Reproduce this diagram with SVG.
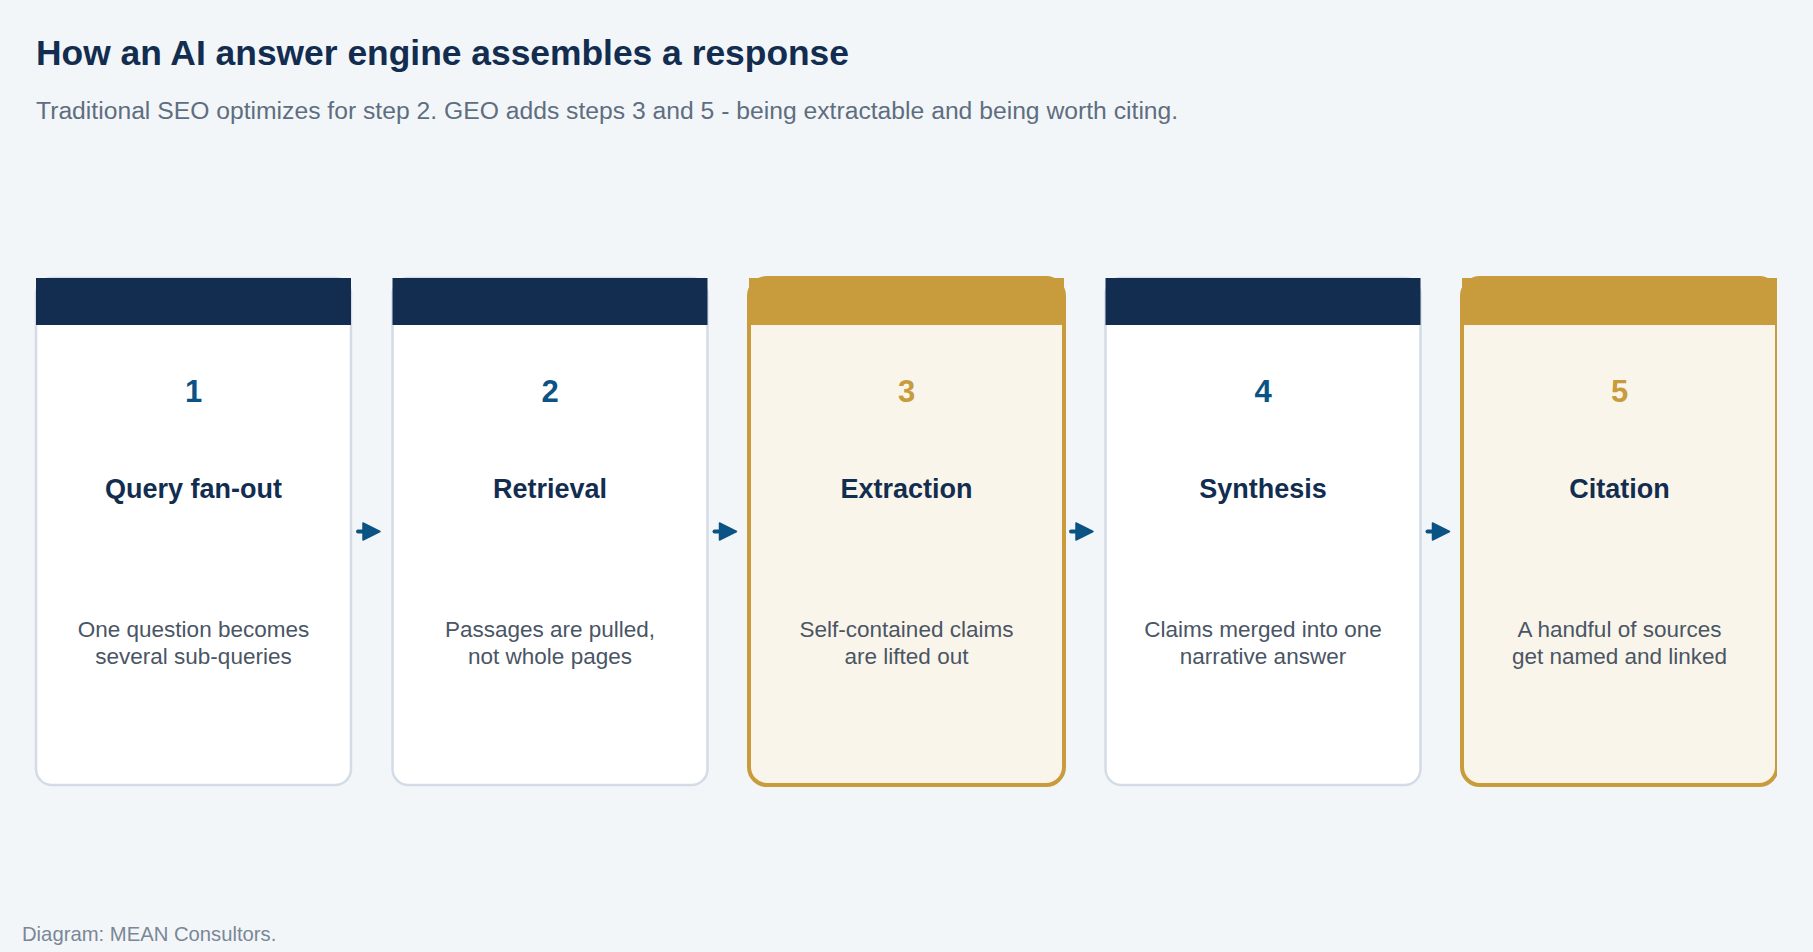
<svg xmlns="http://www.w3.org/2000/svg" width="1813" height="952" viewBox="0 0 1813 952">
  <defs>
    <style>
      .bg { fill: #F3F6F9; }
      .card { fill: #FFFFFF; stroke: #D3DCE6; stroke-width: 2.5; }
      .card-hl { fill: #FAF5EA; stroke: #C89B3C; stroke-width: 4; }
      .hdr { fill: #122D4F; }
      .hdr-hl { fill: #C89B3C; }
      .num { font-family: "Liberation Sans", Arial, sans-serif; font-weight: bold; font-size: 31px; fill: #0B5384; text-anchor: middle; }
      .num-hl { fill: #C89B3C; }
      .ttl { font-family: "Liberation Sans", Arial, sans-serif; font-weight: bold; font-size: 27px; fill: #122D4F; text-anchor: middle; }
      .desc { font-family: "Liberation Sans", Arial, sans-serif; font-size: 22.5px; fill: #4A5565; text-anchor: middle; }
      .conn line { stroke: #0B5384; stroke-width: 4; stroke-linecap: round; }
      .conn polygon { fill: #0B5384; stroke: #0B5384; stroke-width: 1.5; stroke-linejoin: round; }
    </style>
    <clipPath id="clip5">
      <rect x="1400" y="260" width="377" height="540"/>
    </clipPath>
  </defs>

  <rect class="bg" x="0" y="0" width="1813" height="952"/>

  <text x="36" y="65" font-family="'Liberation Sans', Arial, sans-serif" font-weight="bold" font-size="35.4" fill="#122D4F">How an AI answer engine assembles a response</text>
  <text x="36" y="119" font-family="'Liberation Sans', Arial, sans-serif" font-size="24.7" fill="#5E6E80">Traditional SEO optimizes for step 2. GEO adds steps 3 and 5 - being extractable and being worth citing.</text>

  <g id="node-1">
    <rect class="card" x="36" y="278" width="315" height="507" rx="16"/>
    <rect class="hdr" x="36" y="278" width="315" height="47"/>
    <text class="num" x="193.5" y="402">1</text>
    <text class="ttl" x="193.5" y="498">Query fan-out</text>
    <text class="desc" x="193.5" y="637">One question becomes</text>
    <text class="desc" x="193.5" y="663.5">several sub-queries</text>
  </g>

  <g id="node-2">
    <rect class="card" x="392.5" y="278" width="315" height="507" rx="16"/>
    <rect class="hdr" x="392.5" y="278" width="315" height="47"/>
    <text class="num" x="550" y="402">2</text>
    <text class="ttl" x="550" y="498">Retrieval</text>
    <text class="desc" x="550" y="637">Passages are pulled,</text>
    <text class="desc" x="550" y="663.5">not whole pages</text>
  </g>

  <g id="node-3">
    <rect class="card-hl" x="749" y="278" width="315" height="507" rx="18"/>
    <rect class="hdr-hl" x="749" y="278" width="315" height="47"/>
    <text class="num num-hl" x="906.5" y="402">3</text>
    <text class="ttl" x="906.5" y="498">Extraction</text>
    <text class="desc" x="906.5" y="637">Self-contained claims</text>
    <text class="desc" x="906.5" y="663.5">are lifted out</text>
  </g>

  <g id="node-4">
    <rect class="card" x="1105.5" y="278" width="315" height="507" rx="16"/>
    <rect class="hdr" x="1105.5" y="278" width="315" height="47"/>
    <text class="num" x="1263" y="402">4</text>
    <text class="ttl" x="1263" y="498">Synthesis</text>
    <text class="desc" x="1263" y="637">Claims merged into one</text>
    <text class="desc" x="1263" y="663.5">narrative answer</text>
  </g>

  <g id="node-5" clip-path="url(#clip5)">
    <rect class="card-hl" x="1462" y="278" width="315" height="507" rx="18"/>
    <rect class="hdr-hl" x="1462" y="278" width="315" height="47"/>
    <text class="num num-hl" x="1619.5" y="402">5</text>
    <text class="ttl" x="1619.5" y="498">Citation</text>
    <text class="desc" x="1619.5" y="637">A handful of sources</text>
    <text class="desc" x="1619.5" y="663.5">get named and linked</text>
  </g>

  <g id="connectors" class="conn">
    <line x1="358" y1="531.5" x2="366" y2="531.5"/>
    <polygon points="363,523 380,531.5 363,540"/>
    <line x1="714.5" y1="531.5" x2="722.5" y2="531.5"/>
    <polygon points="719.5,523 736.5,531.5 719.5,540"/>
    <line x1="1071" y1="531.5" x2="1079" y2="531.5"/>
    <polygon points="1076,523 1093,531.5 1076,540"/>
    <line x1="1427.5" y1="531.5" x2="1435.5" y2="531.5"/>
    <polygon points="1432.5,523 1449.5,531.5 1432.5,540"/>
  </g>

  <text x="22" y="941" font-family="'Liberation Sans', Arial, sans-serif" font-size="20.25" fill="#7A8796">Diagram: MEAN Consultors.</text>
</svg>
